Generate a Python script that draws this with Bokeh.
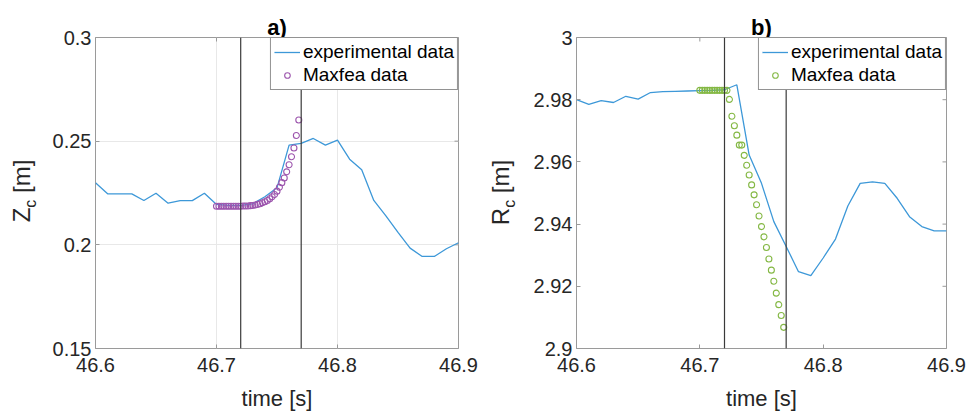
from math import pi
from bokeh.plotting import figure
from bokeh.models import Range1d, FixedTicker, Label, Span, Legend, LegendItem
from bokeh.layouts import row
from bokeh.embed import file_html
from bokeh.resources import INLINE

# ---------------- data ----------------
time_exp = [46.60, 46.61, 46.62, 46.63, 46.64, 46.65, 46.66, 46.67, 46.68, 46.69,
            46.70, 46.71, 46.72, 46.73, 46.74, 46.75, 46.76, 46.77, 46.78, 46.79,
            46.80, 46.81, 46.82, 46.83, 46.84, 46.85, 46.86, 46.87, 46.88, 46.89, 46.90]
z_exp = [0.2299, 0.2246, 0.2246, 0.2246, 0.2214, 0.2249, 0.2201, 0.2213, 0.2213, 0.2249,
         0.2195, 0.2190, 0.2190, 0.2198, 0.2232, 0.2275, 0.2481, 0.2489, 0.2513, 0.2481,
         0.2505, 0.2413, 0.2362, 0.2214, 0.2140, 0.2060, 0.1984, 0.1944, 0.1944, 0.1981, 0.2010]
r_exp = [2.9800, 2.9785, 2.9797, 2.9791, 2.9811, 2.9802, 2.9823, 2.9826, 2.9827, 2.9828,
         2.9829, 2.9830, 2.9832, 2.9848, 2.9622, 2.9531, 2.9408, 2.9328, 2.9247, 2.9234,
         2.9291, 2.9352, 2.9458, 2.9531, 2.9536, 2.9531, 2.9483, 2.9424, 2.9392, 2.9378, 2.9378]

time_maxfea = [46.700, 46.702, 46.704, 46.706, 46.708, 46.710, 46.712, 46.714, 46.716, 46.718,
               46.720, 46.722, 46.724, 46.726, 46.728, 46.730, 46.732, 46.734, 46.736, 46.738,
               46.740, 46.742, 46.744, 46.746, 46.748, 46.750, 46.752, 46.754, 46.756, 46.758,
               46.760, 46.762, 46.764, 46.766, 46.768]
z_maxfea = [0.2186, 0.2186, 0.2186, 0.2186, 0.2186, 0.2186, 0.2186, 0.2186, 0.2186, 0.2186,
            0.2186, 0.2187, 0.2187, 0.2187, 0.2189, 0.2190, 0.2192, 0.2195, 0.2198, 0.2203,
            0.2208, 0.2214, 0.2222, 0.2232, 0.2243, 0.2259, 0.2278, 0.2300, 0.2322, 0.2352,
            0.2386, 0.2425, 0.2467, 0.2527, 0.2602]
r_maxfea = [2.9830, 2.9830, 2.9830, 2.9830, 2.9830, 2.9830, 2.9830, 2.9830, 2.9830, 2.9830,
            2.9830, 2.9830, 2.9801, 2.9747, 2.9716, 2.9686, 2.9654, 2.9654, 2.9621, 2.9589,
            2.9558, 2.9526, 2.9494, 2.9462, 2.9426, 2.9392, 2.9359, 2.9325, 2.9288, 2.9252,
            2.9216, 2.9178, 2.9141, 2.9106, 2.9068]

event_times = [46.72, 46.77]

x_range = (46.6, 46.9)
x_ticks = [46.6, 46.7, 46.8, 46.9]
x_tick_labels = ["46.6", "46.7", "46.8", "46.9"]
z_range = (0.15, 0.3)
z_ticks = [0.15, 0.2, 0.25, 0.3]
z_tick_labels = ["0.15", "0.2", "0.25", "0.3"]
r_range = (2.9, 3.0)
r_ticks = [2.9, 2.92, 2.94, 2.96, 2.98, 3.0]
r_tick_labels = ["2.9", "2.92", "2.94", "2.96", "2.98", "3"]

series_labels = ["experimental data", "Maxfea data"]
titles = ["a)", "b)"]
x_label = "time [s]"
y_symbols = ["Z", "R"]
y_subscript = "c"
y_unit = "[m]"

# ---------------- style ----------------
FONT = "Liberation Sans"
TXT = "#262626"
FRAME = "#9a9a9a"
BLUE = "#3d98d8"
PURPLE = "#9c55ad"
GREEN = "#84b844"
H = 413

# approximate Arial advance widths (em)
AW = {"Z": 0.611, "R": 0.722, "c": 0.5, " ": 0.278, "[": 0.278, "m": 0.833, "]": 0.278}


def tw(s, size):
    return sum(AW.get(ch, 0.556) for ch in s) * size


def make_panel(width, borders, yr, yticks, ylabels, ysym, title, grid, ymaxfea, mcolor):
    left, right, top, bottom = borders
    p = figure(width=width, height=H, output_backend="svg", toolbar_location=None,
               x_range=Range1d(*x_range), y_range=Range1d(*yr),
               min_border_left=left, min_border_right=right,
               min_border_top=top, min_border_bottom=bottom)
    p.background_fill_color = "white"
    p.border_fill_color = "white"
    p.outline_line_color = FRAME
    p.outline_line_width = 1

    p.title.text = title
    p.title.align = "center"
    p.title.text_font = FONT
    p.title.text_font_size = "22px"
    p.title.text_font_style = "bold"
    p.title.text_color = "black"
    p.title.standoff = -4

    for ax, ticks, labels in ((p.xaxis[0], x_ticks, x_tick_labels), (p.yaxis[0], yticks, ylabels)):
        ax.ticker = FixedTicker(ticks=ticks)
        ax.major_label_overrides = {t: l for t, l in zip(ticks, labels)}
        ax.major_tick_in = 4
        ax.major_tick_out = 0
        ax.minor_tick_line_color = None
        ax.axis_line_color = None
        ax.major_tick_line_color = FRAME
        ax.major_label_text_font = FONT
        ax.major_label_text_font_size = "20px"
        ax.major_label_text_color = TXT
    p.yaxis.major_label_standoff = 4
    p.xaxis.major_label_standoff = 9
    p.xaxis.axis_label = x_label
    p.xaxis.axis_label_text_font = FONT
    p.xaxis.axis_label_text_font_size = "22px"
    p.xaxis.axis_label_text_font_style = "normal"
    p.xaxis.axis_label_text_color = TXT
    p.xaxis.axis_label_standoff = 11

    if grid:
        p.xgrid.ticker = FixedTicker(ticks=x_ticks)
        p.ygrid.ticker = FixedTicker(ticks=yticks)
        p.grid.grid_line_color = "#e8e8e8"
        p.grid.grid_line_width = 1
    else:
        p.grid.grid_line_color = None

    # inward ticks on the top and right edges (half of each dash is clipped by the frame)
    p.scatter(x_ticks, [yr[1]] * len(x_ticks), marker="dash", angle=pi / 2, size=8,
              line_color=FRAME, line_width=1)
    p.scatter([x_range[1]] * len(yticks), yticks, marker="dash", size=8,
              line_color=FRAME, line_width=1)

    l1 = p.line(time_exp, ysym, line_color=BLUE, line_width=1.3)
    s1 = p.scatter(time_maxfea, ymaxfea, marker="circle", size=6, fill_color=None,
                   line_color=mcolor, line_width=1.1)

    for t in event_times:
        p.add_layout(Span(location=t, dimension="height", line_color="#3a3a3a", line_width=1.2))

    legend = Legend(items=[LegendItem(label=series_labels[0], renderers=[l1]),
                           LegendItem(label=series_labels[1], renderers=[s1])],
                    location="top_right", margin=0, padding=3, spacing=1,
                    label_height=22, glyph_height=14, glyph_width=26, label_standoff=3,
                    label_text_font=FONT, label_text_font_size="19px", label_text_color="black",
                    border_line_color="#262626", border_line_width=1,
                    background_fill_color="white", background_fill_alpha=1)
    p.add_layout(legend)
    return p


def ylabel_fig(width, main, top, bottom, x_base):
    """A narrow strip holding the rotated y-axis title with its subscript."""
    f = figure(width=width, height=H, output_backend="svg", toolbar_location=None, title=None,
               x_range=Range1d(0, width), y_range=Range1d(0, H),
               min_border_left=0, min_border_right=0,
               min_border_top=top, min_border_bottom=bottom)
    f.axis.visible = False
    f.grid.visible = False
    f.outline_line_color = None
    f.background_fill_color = "white"
    f.border_fill_color = "white"
    size, sub = 24, 16
    gap = tw(" ", size)
    total = tw(main, size) + tw(y_subscript, sub) + gap + tw(y_unit, size)
    frame_h = H - top - bottom
    y0 = frame_h / 2 - total / 2
    common = dict(x_units="screen", y_units="screen", angle=pi / 2, text_font=FONT,
                  text_color=TXT, text_align="left", text_baseline="alphabetic")
    f.add_layout(Label(x=x_base, y=y0, text=main, text_font_size=f"{size}px", **common))
    y1 = y0 + tw(main, size)
    f.add_layout(Label(x=x_base + 9, y=y1, text=y_subscript, text_font_size=f"{sub}px", **common))
    y2 = y1 + tw(y_subscript, sub) + gap
    f.add_layout(Label(x=x_base, y=y2, text=y_unit, text_font_size=f"{size}px", **common))
    return f


lab1 = ylabel_fig(49, y_symbols[0], 36, 62, 21)
p1 = make_panel(431, (45, 22, 36, 62), z_range, z_ticks, z_tick_labels, z_exp, titles[0],
                True, z_maxfea, PURPLE)
lab2 = ylabel_fig(50, y_symbols[1], 37, 64, 20)
p2 = make_panel(437, (45, 21, 37, 64), r_range, r_ticks, r_tick_labels, r_exp, titles[1],
                False, r_maxfea, GREEN)

layout = row(lab1, p1, lab2, p2, spacing=0)
open("out.html", "w").write(file_html(layout, INLINE))
